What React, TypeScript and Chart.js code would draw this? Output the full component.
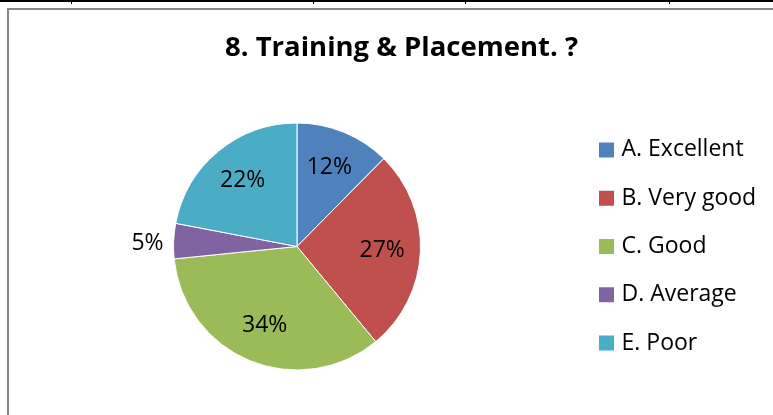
import React, { useEffect, useRef } from "react";
import { Chart, registerables } from "chart.js";

Chart.register(...registerables);

const titleText = "8. Training & Placement. ?";
const categories = ["A. Excellent", "B. Very good", "C. Good", "D. Average", "E. Poor"];
const shares = [12.4, 26.6, 34.4, 4.6, 22.0];
const sliceColors = ["#4F81BD", "#C0504D", "#9BBB59", "#8064A2", "#4BACC6"];

const FONT = "'Open Sans', 'Noto Sans', sans-serif";

const legendWidthPlugin = {
  id: "legendWidth",
  beforeInit(chart: any) {
    const lg = chart.legend;
    if (lg && !lg.__patched) {
      const orig = lg.fit;
      lg.fit = function () {
        orig.call(this);
        this.width = 209;
      };
      lg.__patched = true;
    }
  },
};

const pctLabelPlugin = {
  id: "pctLabels",
  afterDatasetsDraw(chart: any) {
    const ctx = chart.ctx;
    const meta = chart.getDatasetMeta(0);
    const values: number[] = chart.data.datasets[0].data;
    const total = values.reduce((a, b) => a + b, 0);
    ctx.save();
    ctx.font = `23px ${FONT}`;
    ctx.fillStyle = "#000";
    ctx.textBaseline = "middle";
    meta.data.forEach((arc: any, i: number) => {
      const p = arc.getProps(["x", "y", "startAngle", "endAngle", "outerRadius"], true);
      const mid = (p.startAngle + p.endAngle) / 2;
      const pct = (values[i] / total) * 100;
      const text = Math.round(pct) + "%";
      let r: number;
      let dy = 0;
      if (pct < 8) {
        r = p.outerRadius + 10;
        dy = 3;
        ctx.textAlign = Math.cos(mid) < 0 ? "right" : "left";
      } else {
        r = p.outerRadius * 0.69;
        ctx.textAlign = "center";
      }
      ctx.fillText(text, p.x + Math.cos(mid) * r, p.y + Math.sin(mid) * r + dy);
    });
    ctx.restore();
  },
};

export default function App() {
  const canvasRef = useRef<HTMLCanvasElement | null>(null);

  useEffect(() => {
    document.body.style.margin = "0";
    document.body.style.overflow = "hidden";
    const canvas = canvasRef.current;
    if (!canvas) return;
    const chart = new Chart(canvas, {
      type: "pie",
      data: {
        labels: categories,
        datasets: [
          {
            data: shares,
            backgroundColor: sliceColors,
            borderColor: "#ffffff",
            borderWidth: 1,
            radius: 123.5,
          } as any,
        ],
      },
      options: {
        responsive: false,
        animation: false,
        devicePixelRatio: 1,
        layout: { padding: { left: 16.3, right: 13.3, top: 0, bottom: 22 } },
        plugins: {
          title: {
            display: true,
            text: titleText,
            color: "#000",
            font: { family: FONT, size: 27.5, weight: "bold", lineHeight: 1.2 },
            padding: { top: 32, bottom: 35 },
          },
          legend: {
            position: "right",
            fullSize: false,
            labels: {
              color: "#000",
              font: { family: FONT, size: 23 },
              boxWidth: 7,
              boxHeight: 7,
              padding: 25.3,
              generateLabels: () =>
                categories.map((c, i) => ({
                  text: c,
                  fillStyle: sliceColors[i],
                  strokeStyle: sliceColors[i],
                  lineWidth: 8,
                  lineJoin: "miter",
                  hidden: false,
                  index: i,
                })) as any,
            },
          },
          tooltip: { enabled: false },
        },
      },
      plugins: [legendWidthPlugin, pctLabelPlugin],
    });
    return () => chart.destroy();
  }, []);

  return (
    <div
      style={{
        position: "fixed",
        left: 0,
        top: 0,
        width: 773,
        height: 415,
        overflow: "hidden",
        background: "#fff",
      }}
    >
      <div style={{ position: "absolute", left: 0, top: 0, width: 773, height: 2, background: "#000" }} />
      {[71, 313, 465, 669].map((x) => (
        <div key={x} style={{ position: "absolute", left: x, top: 0, width: 1, height: 4, background: "#000" }} />
      ))}
      <div
        style={{
          position: "absolute",
          left: 7,
          top: 8,
          width: 900,
          height: 500,
          border: "2px solid #878787",
          boxSizing: "border-box",
        }}
      />
      <canvas
        ref={canvasRef}
        width={800}
        height={415}
        style={{ position: "absolute", left: 0, top: 0, width: 800, height: 415 }}
      />
    </div>
  );
}
